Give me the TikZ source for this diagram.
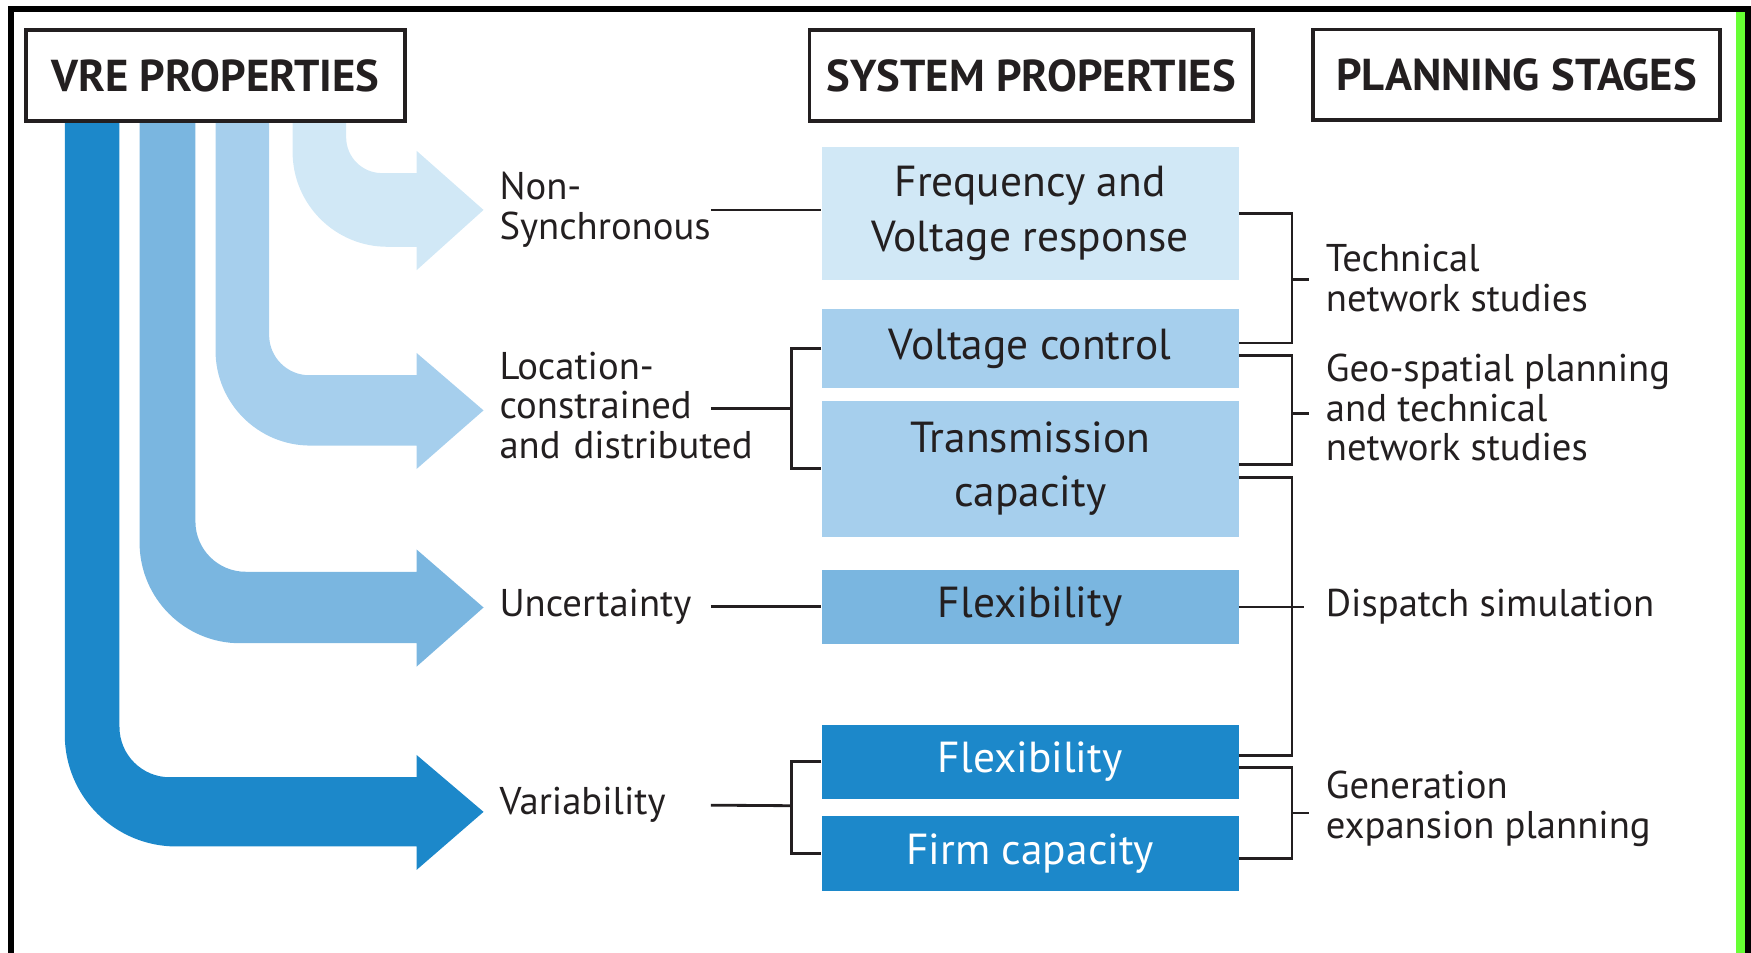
\documentclass[tikz,border=0pt]{standalone}
\usepackage{fontspec}
\setmainfont{PT Sans}
\usetikzlibrary{positioning,calc}
\definecolor{vreA}{HTML}{1C88CA}
\definecolor{vreB}{HTML}{7AB6E0}
\definecolor{vreC}{HTML}{A6CFED}
\definecolor{vreD}{HTML}{D1E8F6}
\definecolor{ink}{HTML}{231F20}
\definecolor{edgegreen}{HTML}{66FF33}
\tikzset{
    head/.style={
        draw=ink,
        line width=2.2pt,
        minimum height=1.81cm,
        text=ink,
        font=\fontsize{25.4}{28}\selectfont\bfseries
    },
    prop/.style={
        minimum width=8.33cm,
        inner sep=0pt,
        align=center,
        text=ink,
        font=\fontsize{24.7}{31}\selectfont
    },
    lbl/.style={
        anchor=west,
        inner sep=0pt,
        align=left,
        text=ink,
        font=\fontsize{22}{22.6}\selectfont
    },
    link/.style={draw=ink, line width=1.6pt}
}

\begin{document}
\begin{tikzpicture}[x=0.02233cm, y=-0.02233cm]
    \useasboundingbox (0,0) rectangle (1568,853);
    % frame
    \fill[edgegreen] (1554.6,10.7) rectangle (1562.6,853);
    \draw[line width=3.4pt] (10,853) -- (10,8) -- (1565.3,8) -- (1565.3,853);

    % bent arrows: colour / left / right / band top / band bottom / inner r / outer r
    \foreach \col/\L/\R/\T/\B/\ri/\ro in {vreA/58/107/696/758/45/100, vreB/125/175/512/576/45/90,
                                        vreC/193/241/336/399/36/85, vreD/262/310/155/221/32/85}{
        \fill[\col] (\R,108) -- (\R,\T-\ri) arc[start angle=180, end angle=90, radius=\ri]
            -- (373,\T) -- (373,\T-20) -- (433,{(\T+\B)/2}) -- (373,\B+21) -- (373,\B)
            -- (\L+\ro,\B) arc[start angle=90, end angle=180, radius=\ro] -- (\L,108) -- cycle;
    }

    % headers
    \node[head, fill=white, minimum width=7.59cm] (vre) at (193,67.5) {VRE PROPERTIES};
    \node[head, minimum width=8.865cm] (sys) at (923.5,67.5) {SYSTEM PROPERTIES};
    \node[head, minimum width=8.13cm] (plan) at (1358,67) {PLANNING STAGES};

    % system properties
    \node[prop, fill=vreD, minimum height=2.657cm] (freq) at (922.5,191) {Frequency and\\Voltage response};
    \node[prop, fill=vreC, minimum height=1.56cm, below=0.58cm of freq] (vctrl) {Voltage control};
    \node[prop, fill=vreC, minimum height=2.72cm, below=0.25cm of vctrl] (trans) {Transmission\\capacity};
    \node[prop, fill=vreB, minimum height=1.48cm, below=0.65cm of trans] (flexu) {Flexibility};
    \node[prop, fill=vreA, text=white, minimum height=1.48cm, below=1.6cm of flexu] (flexv) {Flexibility};
    \node[prop, fill=vreA, text=white, minimum height=1.5cm, below=0.33cm of flexv] (firm) {Firm capacity};

    % VRE properties
    \node[lbl, text width=4.22cm] (lnonsync) at (447,188) {Non-\\Synchronous};
    \node[lbl, text width=4.22cm] (lloc) at (447,363) {Location-\\constrained\\\mbox{and distributed}};
    \node[lbl, text width=4.22cm] (lunc) at (447,543) {Uncertainty};
    \node[lbl, text width=4.22cm] (lvar) at (447,721) {Variability};

    % planning stages
    \node[lbl] (ptech) at (1187,249) {Technical\\network studies};
    \node[lbl] (pgeo) at (1187,365) {Geo-spatial planning\\and technical\\network studies};
    \node[lbl] (pdisp) at (1187,543) {Dispatch simulation};
    \node[lbl] (pgen) at (1187,724) {Generation\\expansion planning};

    % left connectors
    \coordinate (lbr) at (709,366);
    \coordinate (vbr) at (709,721.5);
    \draw[link] (lnonsync.east) -- (lnonsync.east -| freq.west);
    \draw[link] (lbr -| lloc.east) -- (lbr);
    \draw[link] (vctrl.west) -| (lbr) |- (trans.west);
    \draw[link] (lunc.east) -- (lunc.east -| flexu.west);
    \draw[link] (lvar.east) -- (vbr);
    \draw[link] (flexv.west) -| (vbr) |- (firm.west);

    % right brackets
    \coordinate (tbr) at (1157,250);
    \coordinate (gbr) at (1157,370);
    \coordinate (dbr) at (1157,544);
    \coordinate (ebr) at (1157,728);
    \draw[link] (freq.east) -| (tbr) |- ($(vctrl.east)+(0,-5)$);
    \draw[link] (tbr) -- ++(15,0);
    \draw[link] ($(vctrl.east)+(0,6)$) -| (gbr) |- ($(trans.east)+(0,-4)$);
    \draw[link] (gbr) -- ++(15,0);
    \draw[link] ($(trans.east)+(0,8)$) -| (dbr) |- ($(flexv.east)+(0,-6)$);
    \draw[link] (flexu.east) -- ++(58,0);
    \draw[link] ($(flexv.east)+(0,5)$) -| (ebr) |- ($(firm.east)+(0,4.5)$);
    \draw[link] (ebr) -- ++(15,0);
\end{tikzpicture}
\end{document}
